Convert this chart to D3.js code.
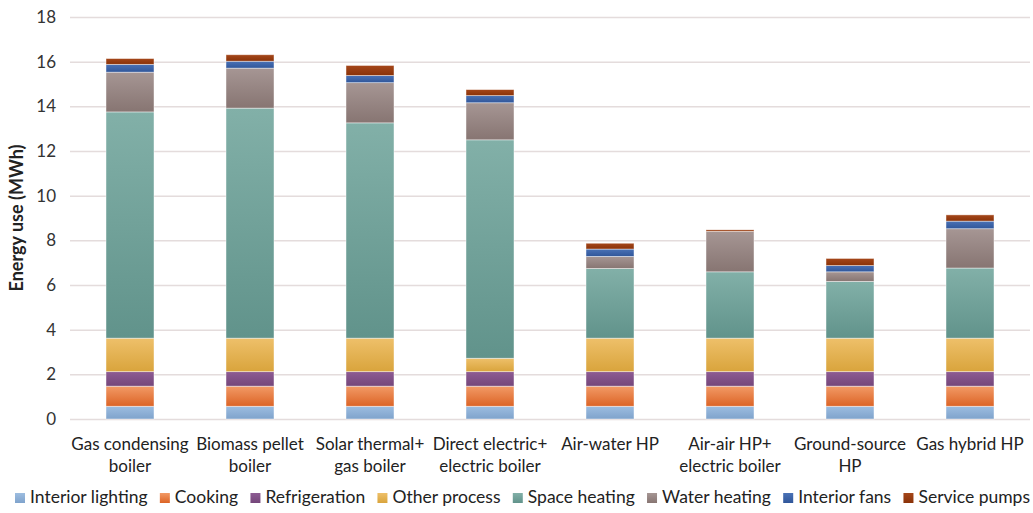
<!DOCTYPE html>
<html>
<head>
<meta charset="utf-8">
<script src="https://cdn.jsdelivr.net/npm/d3@7"></script>
<style>
  html, body { margin: 0; padding: 0; background: #fff; }
  svg { display: block; }
  text { font-family: Lato, "Open Sans", sans-serif; fill: #222; }
</style>
</head>
<body>
<svg id="chart" width="1033" height="513"></svg>
<script>
// Heating systems compared (x categories, each may wrap onto two lines)
const categories = [
  ["Gas condensing", "boiler"],
  ["Biomass pellet", "boiler"],
  ["Solar thermal+", "gas boiler"],
  ["Direct electric+", "electric boiler"],
  ["Air-water HP"],
  ["Air-air HP+", "electric boiler"],
  ["Ground-source", "HP"],
  ["Gas hybrid HP"]
];

// End uses, stacked bottom to top
const seriesNames = ["Interior lighting", "Cooking", "Refrigeration", "Other process",
                     "Space heating", "Water heating", "Interior fans", "Service pumps"];

// Energy use per end use (MWh), one value per system
const interiorLighting = [0.57, 0.57, 0.57, 0.57, 0.57, 0.57, 0.57, 0.57];
const cooking          = [0.90, 0.90, 0.90, 0.90, 0.90, 0.90, 0.90, 0.90];
const refrigeration    = [0.65, 0.65, 0.65, 0.65, 0.65, 0.65, 0.65, 0.65];
const otherProcess     = [1.50, 1.50, 1.50, 0.60, 1.50, 1.50, 1.50, 1.50];
const spaceHeating     = [10.13, 10.30, 9.64, 9.78, 3.12, 2.97, 2.54, 3.14];
const waterHeating     = [1.78, 1.79, 1.80, 1.66, 0.54, 1.81, 0.43, 1.76];
const interiorFans     = [0.35, 0.31, 0.32, 0.32, 0.33, 0.00, 0.28, 0.34];
const servicePumps     = [0.26, 0.29, 0.45, 0.27, 0.26, 0.07, 0.32, 0.28];

const yTicks = [0, 2, 4, 6, 8, 10, 12, 14, 16, 18];

const seriesValues = [interiorLighting, cooking, refrigeration, otherProcess,
                      spaceHeating, waterHeating, interiorFans, servicePumps];

// Each fill gets a light-to-dark vertical gradient
const palette = [
  ["#9dbde0", "#7fa3cc"],
  ["#f29a66", "#dc6426"],
  ["#8d5c93", "#74467a"],
  ["#eec06a", "#d9a43c"],
  ["#82b0a8", "#61938b"],
  ["#a69694", "#877572"],
  ["#4a72b6", "#30569a"],
  ["#a5471a", "#8a3208"]
];

const svg = d3.select("#chart");
const W = 1033, H = 513;
const margin = { left: 70, right: 3, top: 17, bottom: 94 };
const plotW = W - margin.left - margin.right;
const plotH = H - margin.top - margin.bottom;

const rows = categories.map((c, i) => {
  const r = { key: i };
  seriesNames.forEach((s, j) => { r[s] = seriesValues[j][i]; });
  return r;
});
const stacked = d3.stack().keys(seriesNames)(rows);

const x = d3.scaleBand().domain(d3.range(categories.length))
  .range([margin.left, margin.left + plotW]).paddingInner(0.6).paddingOuter(0.3);
const y = d3.scaleLinear().domain([0, 18]).range([margin.top + plotH, margin.top]);

// gradients
const defs = svg.append("defs");
palette.forEach((p, i) => {
  const g = defs.append("linearGradient").attr("id", "grad" + i)
    .attr("x1", 0).attr("y1", 0).attr("x2", 0).attr("y2", 1);
  g.append("stop").attr("offset", "0%").attr("stop-color", p[0]);
  g.append("stop").attr("offset", "100%").attr("stop-color", p[1]);
});

// gridlines
const yAxis = d3.axisLeft(y).tickValues(yTicks).tickSize(-plotW).tickPadding(14);
const gy = svg.append("g").attr("transform", `translate(${margin.left},0)`).call(yAxis);
gy.select(".domain").remove();
gy.selectAll(".tick line").attr("stroke", "#e4dcdc").attr("stroke-width", 1.5);
gy.selectAll(".tick text").attr("font-size", 17).style("fill", "#333")
  .style("font-family", "Lato, 'Open Sans', sans-serif");

// bars
svg.append("g").selectAll("g").data(stacked).join("g")
  .attr("fill", (d, i) => `url(#grad${i})`)
  .selectAll("rect").data(d => d).join("rect")
  .attr("x", (d, i) => x(i))
  .attr("width", x.bandwidth())
  .attr("y", d => y(d[1]))
  .attr("height", d => Math.max(0, y(d[0]) - y(d[1])))
  .attr("stroke", "rgba(255,255,255,0.55)")
  .attr("stroke-width", 0.8);

// category labels
const xl = svg.append("g");
categories.forEach((lines, i) => {
  const t = xl.append("text")
    .attr("x", x(i) + x.bandwidth() / 2)
    .attr("y", 450)
    .attr("text-anchor", "middle")
    .attr("font-size", 17);
  lines.forEach((ln, k) => {
    t.append("tspan").attr("x", x(i) + x.bandwidth() / 2)
      .attr("dy", k === 0 ? 0 : 22).text(ln);
  });
});

// axis title
svg.append("text")
  .attr("transform", `translate(23,218) rotate(-90)`)
  .attr("text-anchor", "middle")
  .attr("font-size", 18)
  .attr("font-weight", "bold")
  .text("Energy use (MWh)");

// legend laid out across the bottom
const legend = svg.append("g");
const items = legend.selectAll("g").data(seriesNames).join("g");
items.append("rect").attr("width", 10).attr("height", 10).attr("y", -10)
  .attr("fill", (d, i) => `url(#grad${i})`);
items.append("text").attr("x", 15).attr("y", 0).attr("font-size", 17.5).text(d => d);
const widths = [];
items.each(function () { widths.push(this.getBBox().width); });
const startX = 15, endX = 1030;
const total = d3.sum(widths);
const gap = (endX - startX - total) / (seriesNames.length - 1);
let cx = startX;
items.attr("transform", (d, i) => {
  const tr = `translate(${cx},503)`;
  cx += widths[i] + gap;
  return tr;
});
</script>
</body>
</html>
